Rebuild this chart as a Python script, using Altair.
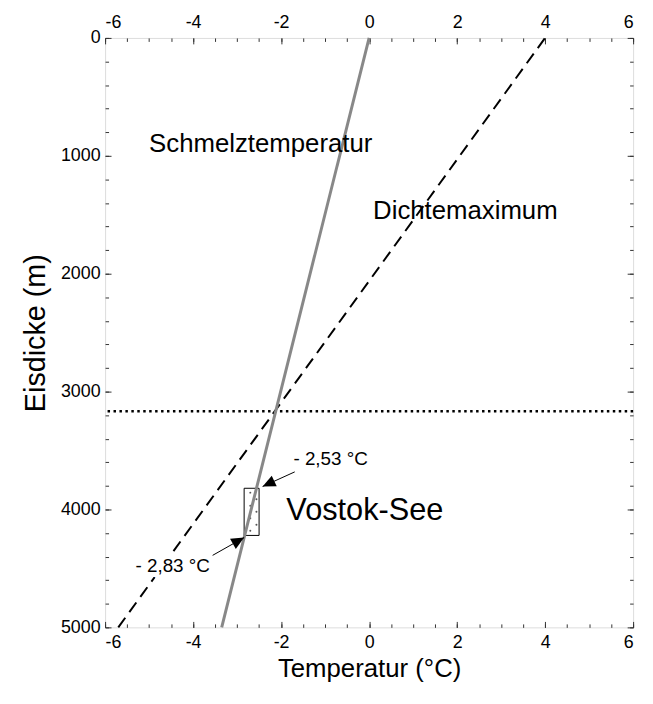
import altair as alt
import pandas as pd

# ---------------- data ----------------
melt_depth = [0, 5000]
melt_temp = [0.0, -3.35]

dens_depth = [0, 5000]
dens_temp = [4.0, -5.7]

level_depth = [3166]

lake_temp = [-2.84]
lake_temp2 = [-2.50]
lake_depth = [3820]
lake_depth2 = [4220]

dot_temp = [-2.70, -2.56, -2.70, -2.56, -2.70, -2.56, -2.70]
dot_depth = [3857, 3913, 3969, 4020, 4074, 4129, 4180]

label_text = ["Schmelztemperatur", "Dichtemaximum"]
label_temp = [-5.0, 0.09]
label_depth = [899, 1471]

lake_label = ["Vostok-See"]
lake_label_temp = [-1.88]
lake_label_depth = [4017]

ann_text = ["- 2,53 °C", "- 2,83 °C"]
ann_temp = [-1.72, -5.31]
ann_depth = [3571, 4479]

arrow_tail_temp = [-1.69, -3.556]
arrow_tail_depth = [3681, 4389]
arrow_tip_temp = [-2.42, -2.84]
arrow_tip_depth = [3805, 4238]
arrow_angle = [244.4, 60.4]

x_major = [-6, -4, -2, 0, 2, 4, 6]
x_minor = [-6, -5.5, -5, -4.5, -4, -3.5, -3, -2.5, -2, -1.5, -1, -0.5, 0,
           0.5, 1, 1.5, 2, 2.5, 3, 3.5, 4, 4.5, 5, 5.5, 6]
y_major = [0, 1000, 2000, 3000, 4000, 5000]
y_minor = list(range(0, 5001, 200))

# ---------------- style ----------------
FONT = "Liberation Sans"
W, H = 533, 595
TICK = "#333333"
MAJ, MIN = 6, 3.5
LBL = "'' + datum.value"

xs = alt.Scale(domain=[-6, 6], nice=False, zero=False)
ys = alt.Scale(domain=[0, 5000], reverse=True, nice=False, zero=False)


def ax(orient, values, size, labels, title=None, **kw):
    return alt.Axis(orient=orient, values=values, tickSize=size, offset=-size,
                    domain=False, grid=False, labels=labels, title=title,
                    tickColor=TICK, tickWidth=1, labelFont=FONT, labelFontSize=18,
                    labelColor="black", labelExpr=LBL, labelOverlap=False,
                    titleFont=FONT, titleFontWeight="normal",
                    titleColor="black", **kw)


melt_df = pd.DataFrame({"t": melt_temp, "d": melt_depth})
dens_df = pd.DataFrame({"t": dens_temp, "d": dens_depth})
lake_df = pd.DataFrame({"t": lake_temp, "t2": lake_temp2, "d": lake_depth, "d2": lake_depth2})
dot_df = pd.DataFrame({"t": dot_temp, "d": dot_depth})
lvl_df = pd.DataFrame({"d": level_depth})
lab_df = pd.DataFrame({"s": label_text, "t": label_temp, "d": label_depth})
lake_lab_df = pd.DataFrame({"s": lake_label, "t": lake_label_temp, "d": lake_label_depth})
ann_df = pd.DataFrame({"s": ann_text, "t": ann_temp, "d": ann_depth})
arr_df = pd.DataFrame({"t": arrow_tail_temp, "d": arrow_tail_depth,
                       "t2": arrow_tip_temp, "d2": arrow_tip_depth, "a": arrow_angle})

melt = alt.Chart(melt_df).mark_line(color="#888888", strokeWidth=3).encode(
    x=alt.X("t:Q", scale=xs, axis=ax("bottom", x_major, MAJ, True, "Temperatur (°C)",
                                       labelPadding=6, titleFontSize=26, titlePadding=5)),
    y=alt.Y("d:Q", scale=ys, axis=ax("left", y_major, MAJ, True, "Eisdicke (m)",
                                       labelPadding=5, titleFontSize=29, titlePadding=10)),
)

dens = alt.Chart(dens_df).mark_line(color="black", strokeWidth=2, strokeDash=[12, 7]).encode(
    x=alt.X("t:Q", scale=xs, axis=ax("top", x_major, MAJ, True, labelPadding=7)),
    y=alt.Y("d:Q", scale=ys, axis=ax("right", y_major, MAJ, False)),
)

lake = alt.Chart(lake_df).mark_rect(fill="white", stroke="black", strokeWidth=1).encode(
    x=alt.X("t:Q", scale=xs, axis=ax("bottom", x_minor, MIN, False)),
    x2="t2:Q",
    y=alt.Y("d:Q", scale=ys, axis=ax("left", y_minor, MIN, False)),
    y2="d2:Q",
)

dots = alt.Chart(dot_df).mark_circle(color="#555555", size=4, opacity=1).encode(
    x=alt.X("t:Q", scale=xs, axis=ax("top", x_minor, MIN, False)),
    y=alt.Y("d:Q", scale=ys, axis=ax("right", y_minor, MIN, False)),
)

level = alt.Chart(lvl_df).mark_rule(color="black", strokeWidth=2.5, strokeDash=[2.5, 3.5]).encode(
    y=alt.Y("d:Q", scale=ys, axis=None),
)

labels = alt.Chart(lab_df).mark_text(align="left", baseline="middle", font=FONT,
                                     fontSize=26, color="black").encode(
    x=alt.X("t:Q", scale=xs, axis=None),
    y=alt.Y("d:Q", scale=ys, axis=None),
    text="s:N",
)

lake_lab = alt.Chart(lake_lab_df).mark_text(align="left", baseline="middle", font=FONT,
                                            fontSize=31, color="black").encode(
    x=alt.X("t:Q", scale=xs, axis=None),
    y=alt.Y("d:Q", scale=ys, axis=None),
    text="s:N",
)

ann_halo = alt.Chart(ann_df).mark_text(align="left", baseline="middle", font=FONT,
                                       fontSize=19, color="white", stroke="white",
                                       strokeWidth=10, strokeJoin="round").encode(
    x=alt.X("t:Q", scale=xs, axis=None),
    y=alt.Y("d:Q", scale=ys, axis=None),
    text="s:N",
)

ann = alt.Chart(ann_df).mark_text(align="left", baseline="middle", font=FONT,
                                  fontSize=19, color="black").encode(
    x=alt.X("t:Q", scale=xs, axis=None),
    y=alt.Y("d:Q", scale=ys, axis=None),
    text="s:N",
)

arr_line = alt.Chart(arr_df).mark_rule(color="black", strokeWidth=1).encode(
    x=alt.X("t:Q", scale=xs, axis=None),
    y=alt.Y("d:Q", scale=ys, axis=None),
    x2="t2:Q",
    y2="d2:Q",
)

arr_head = alt.Chart(arr_df).mark_point(shape="M0,0L-0.45,1L0.45,1Z", filled=True,
                                        color="black", opacity=1, size=676,
                                        strokeWidth=0).encode(
    x=alt.X("t2:Q", scale=xs, axis=None),
    y=alt.Y("d2:Q", scale=ys, axis=None),
    angle=alt.Angle("a:Q", scale=None),
)

chart = alt.layer(
    lake, dots, level, dens, melt, labels, lake_lab, ann_halo, arr_line, arr_head, ann
).resolve_axis(x="independent", y="independent").properties(
    width=W, height=H,
    autosize=alt.AutoSizeParams(type="none"),
    padding={"left": 98, "top": 27, "right": 12, "bottom": 60},
).configure_view(stroke="#444444", strokeWidth=1).configure(background="white")

chart.save("out.html", embed_options={"renderer": "svg", "actions": False})
